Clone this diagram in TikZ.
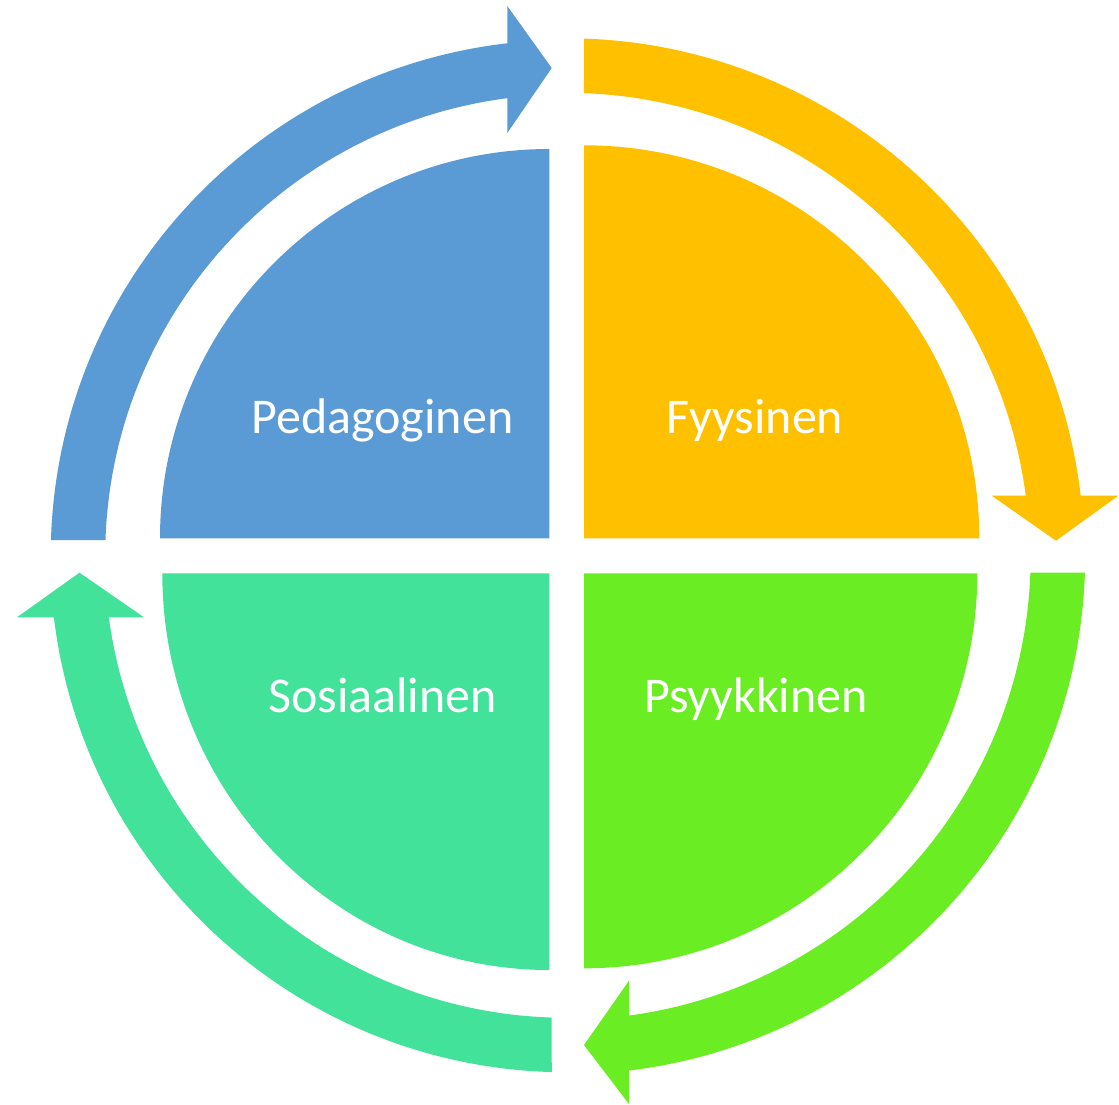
\documentclass[tikz,border=0pt]{standalone}
\usepackage{fontspec}
\setmainfont{Carlito}
\usetikzlibrary{calc}
\definecolor{cblue}{HTML}{5B9BD5}
\definecolor{cyellow}{HTML}{FFC000}
\definecolor{cgreen}{HTML}{6AEE23}
\definecolor{cteal}{HTML}{42E29A}
\tikzset{
  lbl/.style={text=white, anchor=base, inner sep=0pt, font=\fontsize{50}{60}\selectfont}
}
\begin{document}
\begin{tikzpicture}[x=1pt,y=-1pt]
\useasboundingbox (0,0) rectangle (1119,1104);
\fill[white] (0,0) rectangle (1119,1104);
\coordinate (C) at (566.7,555.8);
% quarter discs
\fill[cblue] (549.3,538.3) -- (160,538.3) arc[start angle=180,end angle=270,radius=389.3] -- cycle;
\fill[cyellow] (584,538.3) -- (584,145.3) arc[start angle=270,end angle=360,x radius=395.3,y radius=393] -- cycle;
\fill[cgreen] (584,573.3) -- (977.3,573.3) arc[start angle=0,end angle=90,x radius=393.3,y radius=395] -- cycle;
\fill[cteal] (549.3,573.3) -- (549.3,970) arc[start angle=90,end angle=180,x radius=387,y radius=396.7] -- cycle;
% blue arrow
\fill[cblue] ($(C)+(181.75:516)$) arc[start angle=181.75,end angle=263.39,radius=516]
  -- (507.3,6) -- (551.7,68) -- (507.3,133)
  -- ($(C)+(262.61:461.5)$) arc[start angle=262.61,end angle=181.96,radius=461.5] -- cycle;
% yellow arrow
\fill[cyellow] ($(C)+(271.92:517.5)$) arc[start angle=271.92,end angle=353.33,radius=517.5]
  -- (1118.3,495.7) -- (1056,540.7) -- (991.7,495.7)
  -- ($(C)+(352.54:463)$) arc[start angle=352.54,end angle=272.14,radius=463] -- cycle;
% green arrow
\fill[cgreen] ($(C)+(1.87:518.5)$) arc[start angle=1.87,end angle=83.10,radius=518.5]
  -- (629,1104) -- (584,1045) -- (629,980.7)
  -- ($(C)+(82.28:464)$) arc[start angle=82.28,end angle=2.09,radius=464] -- cycle;
% teal arrow
\fill[cteal] ($(C)+(91.66:516.5)$) arc[start angle=91.66,end angle=173.16,radius=516.5]
  -- (17,617.3) -- (79.5,572.7) -- (144,617.3)
  -- ($(C)+(172.35:462)$) arc[start angle=172.35,end angle=91.86,radius=462] -- cycle;
% labels
\node[lbl] (ped) at (382.4,433) {Pedagoginen};
\node[lbl] (fyy) at (755,433) {Fyysinen};
\node[lbl] (sos) at (382.5,712) {Sosiaalinen};
\node[lbl] (psy) at (756,712) {Psyykkinen};
\end{tikzpicture}
\end{document}
